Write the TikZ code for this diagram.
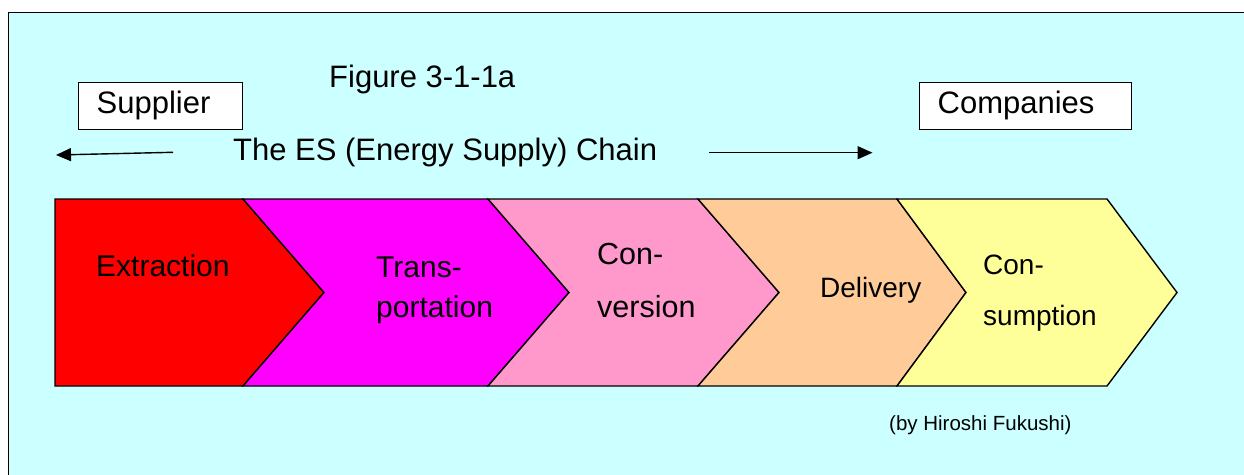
\documentclass[tikz,border=0pt]{standalone}
\usepackage{fontspec}
\setmainfont{Liberation Sans}
\usetikzlibrary{arrows.meta}
\definecolor{bgcyan}{RGB}{204,255,255}
\definecolor{exred}{RGB}{255,0,0}
\definecolor{trmag}{RGB}{255,0,255}
\definecolor{cvpink}{RGB}{255,153,204}
\definecolor{dlpeach}{RGB}{255,204,153}
\definecolor{csyellow}{RGB}{255,255,153}
\begin{document}
\begin{tikzpicture}[x=1pt,y=-1pt,
  lbl/.style={anchor=base west,inner sep=0pt,font=\fontsize{30}{36}\selectfont},
  head/.style={anchor=base west,inner sep=0pt,font=\fontsize{31}{37}\selectfont},
  lblsm/.style={anchor=base west,inner sep=0pt,font=\fontsize{28}{34}\selectfont},
  small/.style={anchor=base west,inner sep=0pt,font=\fontsize{20.5}{24}\selectfont},
  labelbox/.style={draw=black,line width=1.4pt,fill=white,anchor=north west,
    minimum height=47pt,inner xsep=18pt,inner ysep=0pt,align=left,
    text height=21pt,text depth=6pt,font=\fontsize{31}{37}\selectfont},
  chev/.style={draw=black,line width=1.4pt,line join=miter},
  arr/.style={line width=1.4pt,-{Triangle[length=15pt,width=13pt]}}
]
\useasboundingbox (0,0) rectangle (1244,474);
\clip (0,0) rectangle (1244,474);
\fill[white] (0,0) rectangle (1244,474);
\draw[line width=1.5pt,fill=bgcyan] (8.5,520) -- (8.5,12.5) -- (1280,12.5) -- (1280,520) -- cycle;

% chevrons
\filldraw[chev,fill=exred] (55,199) -- (243,199) -- (324,292.5) -- (243,386) -- (55,386) -- cycle;
\filldraw[chev,fill=trmag] (243,199) -- (488,199) -- (569,292.5) -- (488,386) -- (243,386) -- (324,292.5) -- cycle;
\filldraw[chev,fill=cvpink] (488,199) -- (698,199) -- (779,292.5) -- (698,386) -- (488,386) -- (569,292.5) -- cycle;
\filldraw[chev,fill=dlpeach] (698,199) -- (897,199) -- (966,292.5) -- (897,386) -- (698,386) -- (779,292.5) -- cycle;
\filldraw[chev,fill=csyellow] (897,199) -- (1107,199) -- (1177,292.5) -- (1107,386) -- (897,386) -- (966,292.5) -- cycle;

% chevron labels
\node[lbl] (extraction) at (96,276.7) {Extraction};
\node[lbl] (trans1) at (376,277) {Trans-};
\node[lbl] (trans2) at (376,317.3) {portation};
\node[lbl,font=\fontsize{30.5}{36}\selectfont] (conv1) at (597,264.3) {Con-};
\node[lbl,font=\fontsize{30.5}{36}\selectfont] (conv2) at (597,317.7) {version};
\node[lblsm] (delivery) at (820,297.5) {Delivery};
\node[lblsm] (cons1) at (983,274) {Con-};
\node[lblsm] (cons2) at (983,325) {sumption};

% header
\node[labelbox,minimum width=164pt,text width=128pt] (supplier) at (78,82) {Supplier};
\node[labelbox,minimum width=212pt,text width=176pt] (companies) at (919,82) {Companies};
\node[head] (figure) at (329,87.3) {Figure 3-1-1a};
\node[head] (chain) at (233,160) {The ES (Energy Supply) Chain};

% arrows
\coordinate (la-s) at (173,152.3);
\coordinate (la-e) at (56,155);
\coordinate (ra-s) at (709,152.7);
\coordinate (ra-e) at (872.5,152.7);
\draw[arr] (la-s) -- (la-e);
\draw[arr] (ra-s) -- (ra-e);

% credit
\node[small] (credit) at (889,430) {(by Hiroshi Fukushi)};
\end{tikzpicture}
\end{document}
